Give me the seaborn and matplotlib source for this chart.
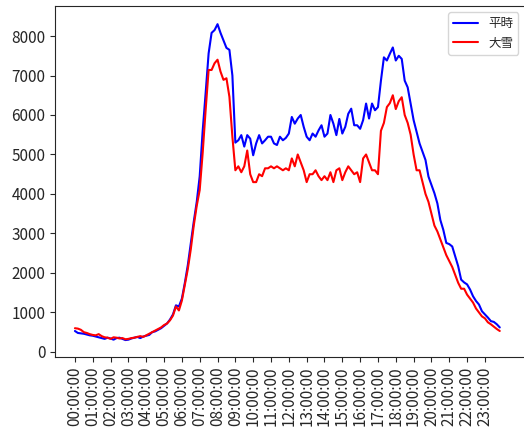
import seaborn as sns
import matplotlib.pyplot as plt
import pandas as pd

sns.set_style("ticks")
plt.rcParams['font.family'] = ['Noto Sans CJK JP', 'DejaVu Sans']

# 10-minute readings, 00:00 .. 23:50
normal = [530, 480, 470, 460, 440, 420, 410, 390, 370, 350, 330, 360,
          340, 310, 350, 360, 330, 300, 310, 340, 360, 380, 350, 390,
          410, 430, 500, 520, 560, 600, 660, 720, 820, 950, 1180, 1150,
          1350, 1750, 2200, 2750, 3300, 3800, 4450, 5600, 6560, 7560, 8080, 8150,
          8300, 8080, 7890, 7700, 7650, 7000, 5300, 5360, 5490, 5200, 5490, 5400,
          4980, 5280, 5490, 5280, 5360, 5450, 5450, 5280, 5240, 5450, 5360, 5420,
          5530, 5950, 5780, 5910, 6000, 5700, 5450, 5360, 5530, 5450, 5610, 5740,
          5450, 5530, 6000, 5780, 5490, 5900, 5530, 5700, 6030, 6160, 5740, 5740,
          5650, 5870, 6290, 5910, 6290, 6120, 6200, 6870, 7460, 7380, 7550, 7710,
          7380, 7500, 7420, 6870, 6700, 6290, 5870, 5570, 5280, 5070, 4860, 4440,
          4230, 4020, 3760, 3340, 3090, 2760, 2730, 2670, 2420, 2170, 1830, 1760,
          1710, 1580, 1410, 1290, 1200, 1030, 950, 870, 780, 760, 700, 620]
snow = [600, 590, 560, 500, 480, 450, 430, 420, 450, 400, 370, 360,
        330, 370, 360, 340, 350, 320, 330, 350, 360, 380, 400, 380,
        420, 460, 500, 540, 580, 620, 680, 720, 800, 920, 1150, 1050,
        1300, 1700, 2100, 2600, 3200, 3700, 4100, 5040, 6130, 7140, 7140, 7310,
        7400, 7100, 6890, 6930, 6460, 5450, 4600, 4700, 4550, 4700, 5100, 4500,
        4300, 4300, 4500, 4450, 4650, 4650, 4700, 4650, 4700, 4650, 4600, 4650,
        4600, 4900, 4700, 5000, 4800, 4600, 4300, 4500, 4500, 4600, 4450, 4350,
        4450, 4350, 4550, 4300, 4600, 4650, 4350, 4550, 4700, 4600, 4500, 4550,
        4300, 4900, 5000, 4800, 4600, 4600, 4500, 5600, 5800, 6200, 6300, 6500,
        6150, 6350, 6450, 6000, 5800, 5500, 5000, 4600, 4600, 4300, 4000, 3800,
        3500, 3200, 3050, 2850, 2650, 2450, 2300, 2150, 1950, 1750, 1600, 1600,
        1450, 1350, 1250, 1100, 1000, 900, 850, 750, 700, 640, 580, 530]
hour_labels = [f"{h:02d}:00:00" for h in range(24)]

minutes = [i * 10 for i in range(len(normal))]
df = pd.DataFrame({'minute': minutes * 2,
                   'count': normal + snow,
                   'kind': ['平時'] * len(normal) + ['大雪'] * len(snow)})

fig = plt.figure(figsize=(5.24, 4.29), dpi=100)
ax = fig.add_axes([0.105, 0.168, 0.91, 0.818])
sns.lineplot(data=df, x='minute', y='count', hue='kind',
             palette={'平時': 'blue', '大雪': 'red'}, linewidth=1.5, ax=ax)

ax.set_xticks([h * 60 for h in range(24)])
ax.set_xticklabels(hour_labels, rotation=90, fontsize=11)
ax.tick_params(axis='y', labelsize=11)
ax.set_yticks(range(0, 9000, 1000))
ax.set_ylim(-127, 8760)
ax.set_xlim(-67, 1538)
ax.spines['right'].set_visible(False)
ax.set_xlabel('')
ax.set_ylabel('')
ax.legend(loc='upper right', fontsize=9, bbox_to_anchor=(0.985, 1))

fig.savefig('out.png', dpi=100)
